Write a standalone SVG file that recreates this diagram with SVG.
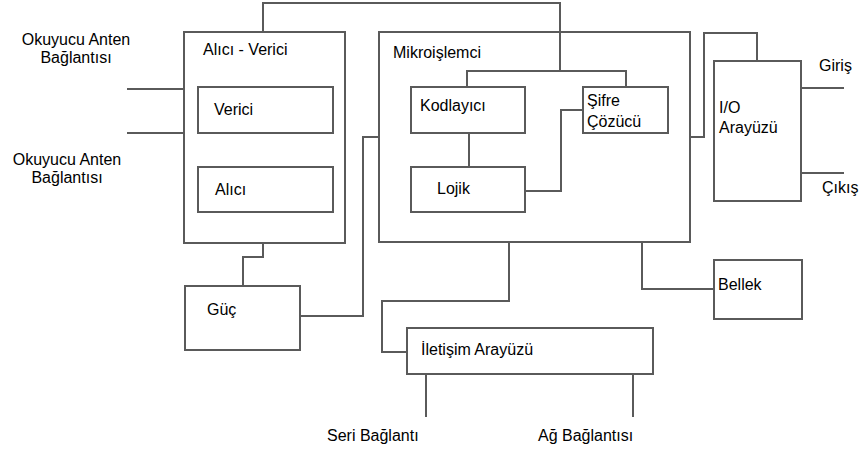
<svg xmlns="http://www.w3.org/2000/svg" width="861" height="452" viewBox="0 0 861 452">
<style>
.box{fill:#fff;stroke:#5a5a5a;stroke-width:2}
.ln{fill:none;stroke:#5a5a5a;stroke-width:2}
text{font-family:"Liberation Sans",Arial,sans-serif;font-size:16px;fill:#000}
</style>
<rect width="861" height="452" fill="#fff"/>
<g id="connectors">
<polyline class="ln" points="263,32 263,3 560,3 560,71"/>
<polyline class="ln" points="467,87 467,71 626,71 626,87"/>
<line class="ln" x1="127" y1="89" x2="184" y2="89"/>
<line class="ln" x1="127" y1="133" x2="184" y2="133"/>
<line class="ln" x1="469" y1="133" x2="469" y2="167"/>
<polyline class="ln" points="525,191 561,191 561,110 583,110"/>
<polyline class="ln" points="379,137 363,137 363,316 300,316"/>
<polyline class="ln" points="263,243 263,257 243,257 243,286"/>
<polyline class="ln" points="509,242 509,301 382,301 382,352 407,352"/>
<polyline class="ln" points="642,242 642,289 714,289"/>
<polyline class="ln" points="690,137 704,137 704,33 757,33 757,61"/>
<line class="ln" x1="801" y1="88" x2="844" y2="88"/>
<line class="ln" x1="801" y1="173" x2="844" y2="173"/>
<line class="ln" x1="426" y1="374" x2="426" y2="417"/>
<line class="ln" x1="633" y1="374" x2="633" y2="417"/>
</g>
<g id="alici-verici">
<rect class="box" x="184" y="32" width="161" height="211"/>
<text x="203" y="55">Alıcı - Verici</text>
</g>
<g id="verici">
<rect class="box" x="198" y="87" width="135" height="46"/>
<text x="214" y="115">Verici</text>
</g>
<g id="alici">
<rect class="box" x="198" y="167" width="135" height="45"/>
<text x="215" y="195">Alıcı</text>
</g>
<g id="mikroislemci">
<rect class="box" x="379" y="32" width="311" height="210" style="fill:none"/>
<text x="393" y="58">Mikroişlemci</text>
</g>
<g id="kodlayici">
<rect class="box" x="411" y="87" width="114" height="46"/>
<text x="420" y="111">Kodlayıcı</text>
</g>
<g id="lojik">
<rect class="box" x="411" y="167" width="114" height="45"/>
<text x="437" y="194">Lojik</text>
</g>
<g id="sifre-cozucu">
<rect class="box" x="583" y="87" width="85" height="46"/>
<text x="587" y="106">Şifre</text>
<text x="587" y="127">Çözücü</text>
</g>
<g id="io-arayuzu">
<rect class="box" x="714" y="61" width="87" height="140"/>
<text x="719" y="113">I/O</text>
<text x="719" y="133">Arayüzü</text>
</g>
<g id="guc">
<rect class="box" x="185" y="286" width="115" height="64"/>
<text x="207" y="315">Güç</text>
</g>
<g id="bellek">
<rect class="box" x="714" y="260" width="88" height="59"/>
<text x="718" y="290">Bellek</text>
</g>
<g id="iletisim-arayuzu">
<rect class="box" x="407" y="328" width="246" height="46"/>
<text x="421" y="355">İletişim Arayüzü</text>
</g>
<g id="labels">
<text x="76" y="45" text-anchor="middle">Okuyucu Anten</text>
<text x="76" y="63" text-anchor="middle">Bağlantısı</text>
<text x="67" y="165" text-anchor="middle">Okuyucu Anten</text>
<text x="67" y="183" text-anchor="middle">Bağlantısı</text>
<text x="819" y="71">Giriş</text>
<text x="822" y="193">Çıkış</text>
<text x="327" y="441">Seri Bağlantı</text>
<text x="538" y="441">Ağ Bağlantısı</text>
</g>
</svg>
